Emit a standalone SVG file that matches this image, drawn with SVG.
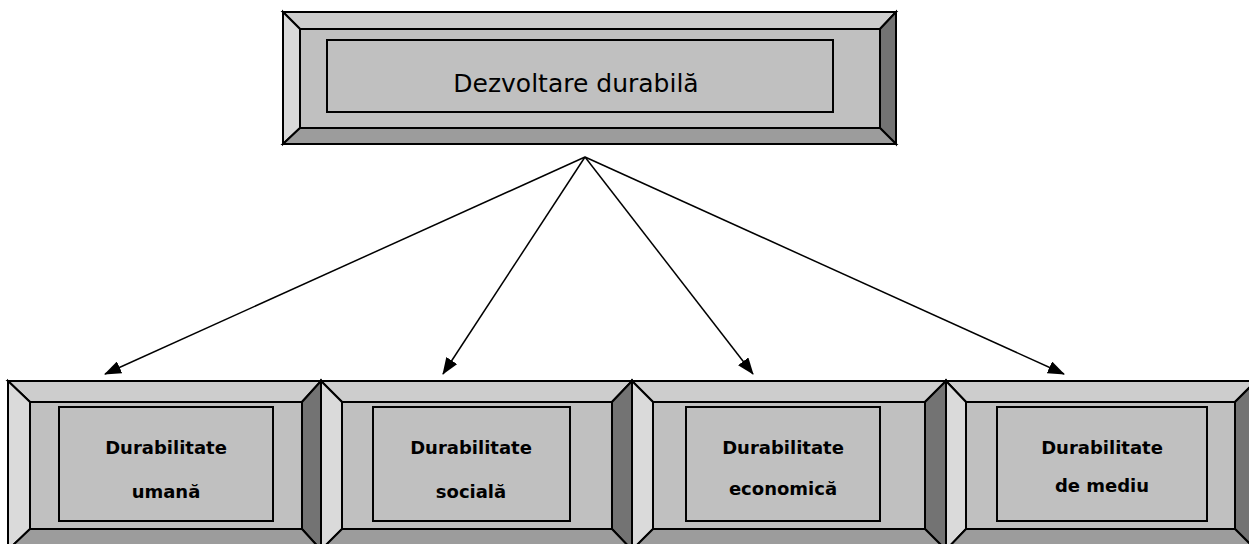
<svg xmlns="http://www.w3.org/2000/svg" width="1249" height="544" viewBox="0 0 1249 544">
<defs>
<style>
.bt{fill:#cdcdcd;stroke:#000;stroke-width:2;stroke-linejoin:miter}
.bl{fill:#dadada;stroke:#000;stroke-width:2}
.br{fill:#737373;stroke:#000;stroke-width:2}
.bb{fill:#9c9c9c;stroke:#000;stroke-width:2}
.face{fill:#c0c0c0;stroke:#000;stroke-width:2}
.tb{fill:#c0c0c0;stroke:#000;stroke-width:2}
.t1{font-family:"DejaVu Sans",Verdana,sans-serif;font-size:25px;fill:#000}
.t2{font-family:"DejaVu Sans",Verdana,sans-serif;font-size:18px;font-weight:bold;fill:#000}
.conn{stroke:#000;stroke-width:1.5;fill:none}
</style>
<marker id="ah" markerWidth="17" markerHeight="13" refX="16" refY="6.5" orient="auto" markerUnits="userSpaceOnUse">
<path d="M0,0 L17,6.5 L0,13 Z" fill="#000"/>
</marker>
</defs>
<rect width="1249" height="544" fill="#fff"/>
<g id="node-top">
<polygon class="bt" points="283,12 896,12 880,29 300,29"/>
<polygon class="bl" points="283,12 300,29 300,128 283,144"/>
<polygon class="br" points="896,12 896,144 880,128 880,29"/>
<polygon class="bb" points="283,144 300,128 880,128 896,144"/>
<rect class="face" x="300" y="29" width="580" height="99"/>
<rect class="tb" x="327" y="40" width="506" height="72"/>
<text class="t1" x="576" y="92" text-anchor="middle">Dezvoltare durabilă</text>
</g>
<g id="node-umana">
<polygon class="bt" points="8,381 321,381 302,402 30,402"/>
<polygon class="bl" points="8,381 30,402 30,529 8,550"/>
<polygon class="br" points="321,381 321,550 302,529 302,402"/>
<polygon class="bb" points="8,550 30,529 302,529 321,550"/>
<rect class="face" x="30" y="402" width="272" height="127"/>
<rect class="tb" x="59" y="407" width="214" height="114"/>
<text class="t2" x="166" y="454" text-anchor="middle">Durabilitate</text>
<text class="t2" x="166" y="498" text-anchor="middle">umană</text>
</g>
<g id="node-sociala">
<polygon class="bt" points="321,381 632,381 612,402 342,402"/>
<polygon class="bl" points="321,381 342,402 342,529 321,550"/>
<polygon class="br" points="632,381 632,550 612,529 612,402"/>
<polygon class="bb" points="321,550 342,529 612,529 632,550"/>
<rect class="face" x="342" y="402" width="270" height="127"/>
<rect class="tb" x="373" y="407" width="197" height="114"/>
<text class="t2" x="471" y="454" text-anchor="middle">Durabilitate</text>
<text class="t2" x="471" y="498" text-anchor="middle">socială</text>
</g>
<g id="node-economica">
<polygon class="bt" points="632,381 946,381 925,402 653,402"/>
<polygon class="bl" points="632,381 653,402 653,529 632,550"/>
<polygon class="br" points="946,381 946,550 925,529 925,402"/>
<polygon class="bb" points="632,550 653,529 925,529 946,550"/>
<rect class="face" x="653" y="402" width="272" height="127"/>
<rect class="tb" x="686" y="407" width="194" height="114"/>
<text class="t2" x="783" y="454" text-anchor="middle">Durabilitate</text>
<text class="t2" x="783" y="495" text-anchor="middle">economică</text>
</g>
<g id="node-mediu">
<polygon class="bt" points="946,381 1256,381 1235,402 966,402"/>
<polygon class="bl" points="946,381 966,402 966,529 946,550"/>
<polygon class="br" points="1256,381 1256,550 1235,529 1235,402"/>
<polygon class="bb" points="946,550 966,529 1235,529 1256,550"/>
<rect class="face" x="966" y="402" width="269" height="127"/>
<rect class="tb" x="997" y="407" width="210" height="114"/>
<text class="t2" x="1102" y="454" text-anchor="middle">Durabilitate</text>
<text class="t2" x="1102" y="492" text-anchor="middle">de mediu</text>
</g>
<g id="connectors">
<line class="conn" x1="585" y1="157" x2="105" y2="374" marker-end="url(#ah)"/>
<line class="conn" x1="585" y1="157" x2="443" y2="374" marker-end="url(#ah)"/>
<line class="conn" x1="585" y1="157" x2="753" y2="374" marker-end="url(#ah)"/>
<line class="conn" x1="585" y1="157" x2="1064" y2="374" marker-end="url(#ah)"/>
</g>
</svg>
